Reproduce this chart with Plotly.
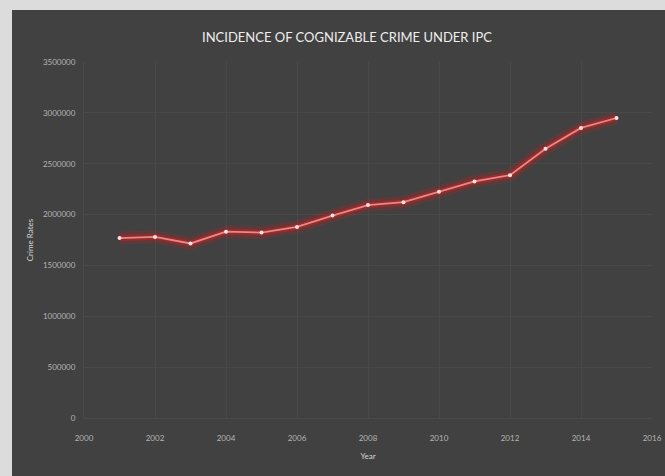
import plotly.graph_objects as go

years = [2001, 2002, 2003, 2004, 2005, 2006, 2007, 2008, 2009, 2010, 2011, 2012, 2013, 2014, 2015]
crimes = [1769308, 1780330, 1716120, 1832015, 1822602, 1878293, 1989673, 2093379,
          2121345, 2224831, 2325575, 2387188, 2647722, 2851563, 2949400]
x_ticks = [2000, 2002, 2004, 2006, 2008, 2010, 2012, 2014, 2016]
y_ticks = [0, 500000, 1000000, 1500000, 2000000, 2500000, 3000000, 3500000]

DARK = "#414141"
LIGHT = "#dcdcdc"
W, H = 665, 476
L, R, T, B = 84, 13, 62, 58
pw, ph = W - L - R, H - T - B
FONT = "Lato, Liberation Sans, sans-serif"

fig = go.Figure()
# glow layers
fig.add_trace(go.Scatter(x=years, y=crimes, mode="lines",
                         line=dict(color="rgba(200,30,30,0.22)", width=13),
                         hoverinfo="skip", showlegend=False))
fig.add_trace(go.Scatter(x=years, y=crimes, mode="lines",
                         line=dict(color="rgba(195,35,35,0.55)", width=6),
                         hoverinfo="skip", showlegend=False))
fig.add_trace(go.Scatter(x=years, y=crimes, mode="lines+markers",
                         line=dict(color="#e88888", width=1.8),
                         marker=dict(color="#f8e4e4", size=4),
                         showlegend=False))

# light strips of the photographed slide (left and top)
xl = (12 - L) / pw
yt = 1 + (T - 10) / ph
fig.add_shape(type="rect", xref="paper", yref="paper", x0=-L / pw - 0.02, x1=xl,
              y0=-B / ph - 0.02, y1=1 + T / ph + 0.02, fillcolor=LIGHT, line=dict(width=0), layer="below")
fig.add_shape(type="rect", xref="paper", yref="paper", x0=-L / pw - 0.02, x1=1 + R / pw + 0.02,
              y0=yt, y1=1 + T / ph + 0.02, fillcolor=LIGHT, line=dict(width=0), layer="below")

axis_font = dict(family=FONT, size=8, color="#b4b4b4")
fig.update_layout(
    width=W, height=H,
    margin=dict(l=L, r=R, t=T, b=B, autoexpand=False),
    paper_bgcolor=DARK,
    plot_bgcolor=DARK,
    title=dict(text="INCIDENCE OF COGNIZABLE CRIME UNDER IPC", x=347 / W, xanchor="center",
               y=1 - 37 / H, yanchor="middle",
               font=dict(family=FONT, size=13, color="#eeeeee")),
    xaxis=dict(range=[2000, 2016], tickvals=x_ticks, ticktext=[str(v) for v in x_ticks],
               automargin=False, ticklabelstandoff=12,
               showgrid=True, gridcolor="#494949", gridwidth=1, zeroline=False,
               showline=True, linecolor="#4a4a4a",
               tickfont=axis_font,
               title=dict(text="Year", standoff=11,
                          font=dict(family=FONT, size=8, color="#d4d4d4"))),
    yaxis=dict(range=[0, 3500000], tickvals=y_ticks, ticktext=[str(v) for v in y_ticks],
               automargin=False,
               showgrid=True, gridcolor="#494949", gridwidth=1, zeroline=False,
               showline=True, linecolor="#4a4a4a", ticklabelstandoff=6,
               tickfont=axis_font,
               title=dict(text="Crime Rates", standoff=8,
                          font=dict(family=FONT, size=8, color="#d4d4d4"))),
)

fig.write_html("out.html")
